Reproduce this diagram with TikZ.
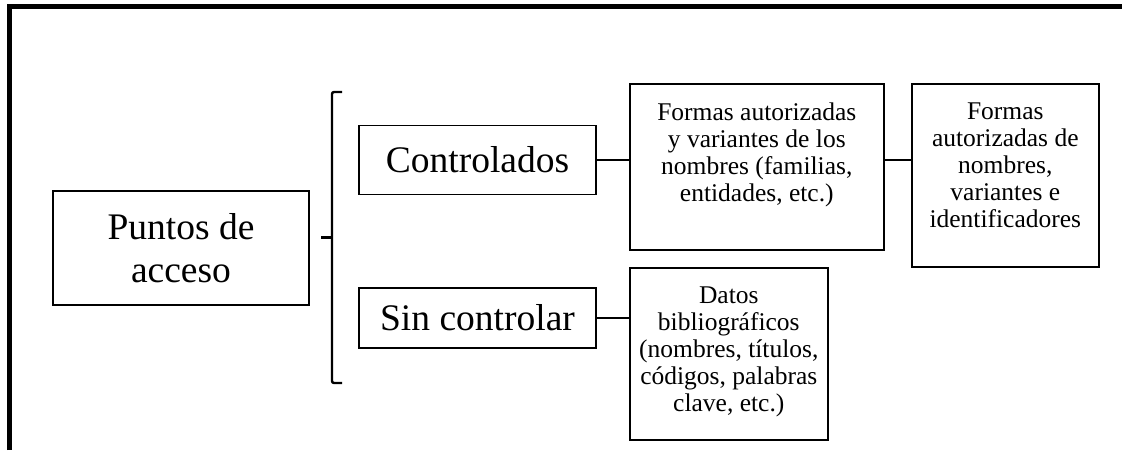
\documentclass[tikz,border=0pt]{standalone}
\usepackage{fontspec}
\setmainfont{Liberation Serif}
\newcommand{\bigtxt}{\fontsize{37.5}{43}\selectfont}
\newcommand{\smalltxt}{\fontsize{25.5}{27}\selectfont}
% text sitting at the top of a box of fixed size
\newcommand{\toptext}[3]{\parbox[c][#1][t]{#2}{\centering\smalltxt\vspace*{19pt}#3}}

\begin{document}
\begin{tikzpicture}[x=1pt, y=-1pt,
    box/.style={draw, line width=1.6pt, inner sep=0pt, align=center},
    link/.style={line width=1.4pt}]
\useasboundingbox (0,0) rectangle (1122,450);

% frame of the page
\draw[line width=5pt] (9,450) -- (9,6.5) -- (1122,6.5);

% the main entry and its two kinds
\node[box, font=\bigtxt, minimum width=256pt, minimum height=114pt] (acceso) at (181,248) {Puntos de\\acceso};
\node[box, font=\bigtxt, minimum width=237pt, minimum height=69pt] (ctrl) at (477.5,160) {Controlados};
\node[box, font=\bigtxt, minimum width=237pt, minimum height=60pt] (sinctrl) at (477.5,318) {Sin controlar};

% the bracket
\coordinate (brtop) at (342,92);
\coordinate (brbot) at (342,383);
\coordinate (brmid) at (321,237.5);
\draw[line width=2.4pt, rounded corners=2pt] (brtop) -- (332,92) -- (332,383) -- (brbot);
\draw[line width=2.4pt] (332,237.5) -- (brmid);

% the boxes on the right
\node[box, anchor=north west] (formas) at (629,83) {\toptext{166pt}{254pt}{Formas autorizadas\\ y variantes de los\\ nombres (familias,\\ entidades, etc.)}};
\node[box, anchor=north west] (ident) at (911,83) {\toptext{183pt}{187pt}{Formas\\ autorizadas de\\ nombres,\\ variantes e\\ identificadores}};
\node[box, anchor=north west] (datos) at (629,267) {\toptext{172pt}{198pt}{Datos\\ bibliográficos\\ (nombres, títulos,\\ códigos, palabras\\ clave, etc.)}};

% the links
\draw[link] (ctrl.east) -- (ctrl.east -| formas.west);
\draw[link] (formas.east |- ctrl.east) -- (ident.west |- ctrl.east);
\draw[link] (sinctrl.east) -- (sinctrl.east -| datos.west);

\end{tikzpicture}
\end{document}
